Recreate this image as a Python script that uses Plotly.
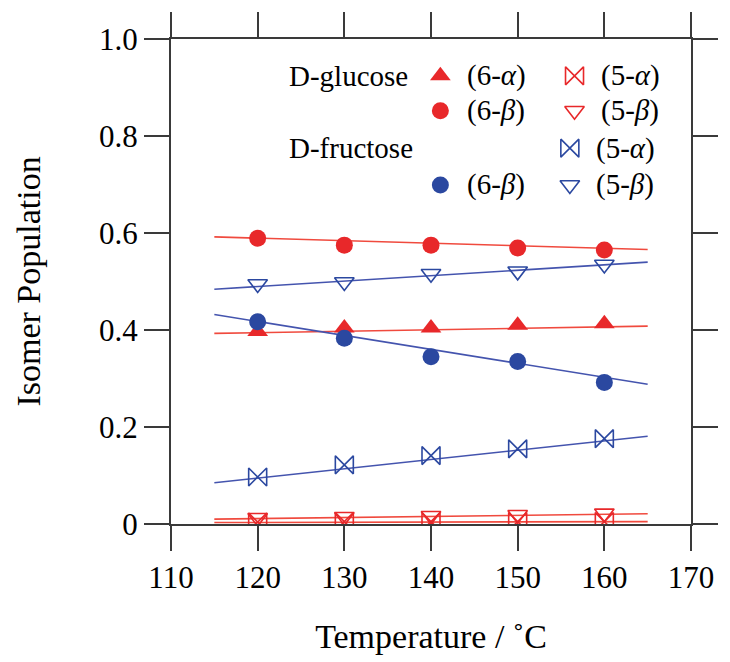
import plotly.graph_objects as go

# ---- data ----
temps = [120, 130, 140, 150, 160]
glc_6a = [0.397, 0.404, 0.404, 0.410, 0.413]
glc_6b = [0.589, 0.575, 0.575, 0.569, 0.565]
glc_5a = [0.004, 0.005, 0.005, 0.005, 0.005]
glc_5b = [0.013, 0.015, 0.017, 0.019, 0.022]
fru_6b = [0.417, 0.383, 0.345, 0.335, 0.292]
fru_5a = [0.097, 0.122, 0.141, 0.155, 0.176]
fru_5b = [0.495, 0.499, 0.516, 0.521, 0.535]

fit_x = [115, 165]
fit_glc_6a = [0.393, 0.408]
fit_glc_6b = [0.592, 0.566]
fit_glc_5a = [0.003, 0.005]
fit_glc_5b = [0.010, 0.021]
fit_fru_6b = [0.432, 0.288]
fit_fru_5a = [0.085, 0.181]
fit_fru_5b = [0.484, 0.540]

x_ticks = [110, 120, 130, 140, 150, 160, 170]
y_ticks = [0, 0.2, 0.4, 0.6, 0.8, 1.0]
y_tick_text = ["0", "0.2", "0.4", "0.6", "0.8", "1.0"]

RED = "#e8282a"
BLUE = "#2b48a0"
RED_L = "#f04a3e"
BLUE_L = "#4454ae"
FONT = "Liberation Serif"
AX = "#3a3a3a"

fig = go.Figure()

# fit lines
for fy, col in [(fit_glc_6a, RED_L), (fit_glc_6b, RED_L), (fit_glc_5a, RED_L),
                (fit_glc_5b, RED_L), (fit_fru_6b, BLUE_L), (fit_fru_5a, BLUE_L),
                (fit_fru_5b, BLUE_L)]:
    fig.add_trace(go.Scatter(x=fit_x, y=fy, mode="lines",
                             line=dict(color=col, width=1.6),
                             showlegend=False, hoverinfo="skip"))

def pts(y, sym, col, size):
    op = sym.endswith("open")
    fig.add_trace(go.Scatter(
        x=temps, y=y, mode="markers", showlegend=False,
        marker=dict(symbol=sym, size=size, color=col,
                    line=dict(color=col, width=1.6 if op else 0))))

pts(glc_5a, "bowtie-open", RED, 18)
pts(glc_5b, "triangle-down-open", RED, 17)
pts(glc_6a, "triangle-up", RED, 18)
pts(glc_6b, "circle", RED, 17)
pts(fru_6b, "circle", BLUE, 17)
pts(fru_5a, "bowtie-open", BLUE, 18)
pts(fru_5b, "triangle-down-open", BLUE, 17)

# ---- in-plot legend (overlay axes spanning the plot area) ----
leg = [
    (0.518, 0.924, "triangle-up", RED, 18, "(6-<i>α</i>)"),
    (0.776, 0.924, "bowtie-open", RED, 18, "(5-<i>α</i>)"),
    (0.518, 0.852, "circle", RED, 17, "(6-<i>β</i>)"),
    (0.776, 0.852, "triangle-down-open", RED, 17, "(5-<i>β</i>)"),
    (0.767, 0.775, "bowtie-open", BLUE, 18, "(5-<i>α</i>)"),
    (0.518, 0.699, "circle", BLUE, 17, "(6-<i>β</i>)"),
    (0.767, 0.699, "triangle-down-open", BLUE, 17, "(5-<i>β</i>)"),
]
for lx, ly, sym, col, sz, txt in leg:
    op = sym.endswith("open")
    fig.add_trace(go.Scatter(
        x=[lx], y=[ly], xaxis="x2", yaxis="y2", mode="markers",
        showlegend=False, hoverinfo="skip",
        marker=dict(symbol=sym, size=sz, color=col,
                    line=dict(color=col, width=1.6 if op else 0))))
    fig.add_annotation(x=lx + 0.047, y=ly, xref="paper", yref="paper",
                       text=txt, showarrow=False, xanchor="left",
                       yanchor="middle",
                       font=dict(family=FONT, size=29, color="black"))

for txt, ly in [("D-glucose", 0.924), ("D-fructose", 0.775)]:
    fig.add_annotation(x=0.224, y=ly, xref="paper", yref="paper", text=txt,
                       showarrow=False, xanchor="left", yanchor="middle",
                       font=dict(family=FONT, size=29, color="black"))

axis_common = dict(showline=True, linecolor=AX, linewidth=2, mirror="ticks",
                   ticks="outside", ticklen=25, tickwidth=2, tickcolor=AX,
                   showgrid=False, zeroline=False,
                   tickfont=dict(family=FONT, size=31, color="black"))

fig.update_layout(
    width=730, height=662,
    margin=dict(l=171, r=28, t=36, b=138),
    plot_bgcolor="white", paper_bgcolor="white",
    xaxis=dict(range=[110, 170], tickvals=x_ticks,
               title=dict(text="Temperature / ˚C",
                          font=dict(family=FONT, size=34, color="black"),
                          standoff=30),
               **axis_common),
    yaxis=dict(range=[0, 1], tickvals=y_ticks, ticktext=y_tick_text,
               title=dict(text="Isomer Population",
                          font=dict(family=FONT, size=34, color="black"),
                          standoff=48),
               **axis_common),
    xaxis2=dict(range=[0, 1], overlaying="x", visible=False),
    yaxis2=dict(range=[0, 1], overlaying="y", visible=False),
)

fig.write_html("out.html")
